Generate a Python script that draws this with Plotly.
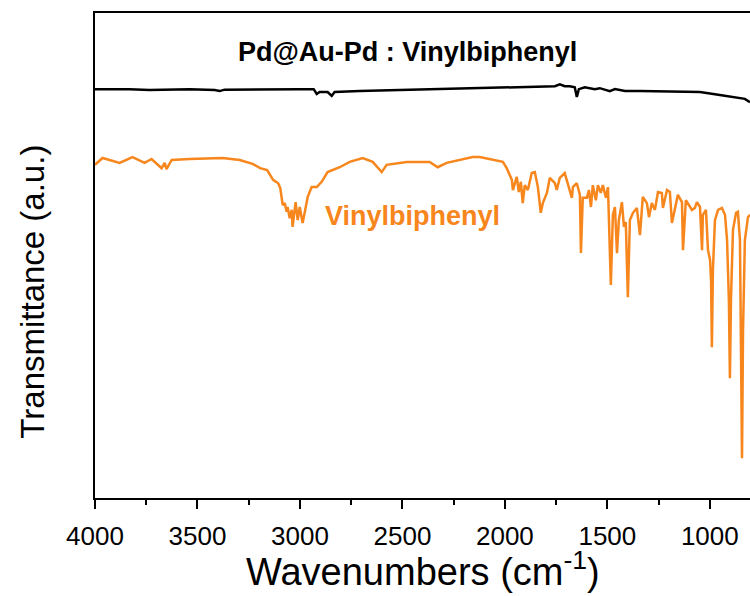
import plotly.graph_objects as go

# Black spectrum: Pd@Au-Pd : Vinylbiphenyl
wn_black = [4000, 3832, 3734, 3539, 3416, 3392, 3368, 3197, 3001, 2933, 2918, 2904, 2865, 2845,
            2831, 2709, 2514, 2270, 2025, 1830, 1756, 1732, 1708, 1683, 1659, 1649, 1639, 1610,
            1561, 1537, 1488, 1463, 1414, 1341, 1146, 1048, 951, 878, 829, 804]
t_black = [84.3, 84.3, 84.1, 84.3, 84.1, 83.9, 84.2, 84.3, 84.3, 84.3, 83.3, 83.7, 83.7, 82.9,
           83.7, 83.9, 84.1, 84.3, 84.5, 84.7, 84.9, 85.3, 84.9, 84.9, 84.7, 82.7, 84.3, 84.7,
           84.3, 84.5, 83.9, 84.3, 83.9, 83.9, 83.7, 83.7, 83.1, 82.7, 82.3, 81.6]

# Orange spectrum: Vinylbiphenyl
wn_orange = [4000, 3963, 3880, 3817, 3758, 3724, 3675, 3660, 3651, 3626, 3539, 3377, 3294, 3231,
             3194, 3160, 3131, 3106, 3096, 3084, 3074, 3065, 3060, 3050, 3040, 3036, 3021, 3011,
             3001, 2987, 2977, 2962, 2943, 2918, 2894, 2865, 2806, 2757, 2694, 2645, 2601, 2577,
             2479, 2367, 2328, 2284, 2157, 2123, 2010, 1991, 1966, 1961, 1942, 1932, 1922, 1913,
             1903, 1888, 1869, 1854, 1839, 1825, 1815, 1795, 1781, 1756, 1747, 1732, 1708, 1693,
             1673, 1668, 1649, 1634, 1629, 1620, 1600, 1590, 1580, 1571, 1556, 1546, 1532, 1522,
             1507, 1497, 1483, 1473, 1463, 1453, 1444, 1429, 1419, 1410, 1400, 1390, 1375, 1356,
             1341, 1327, 1307, 1297, 1283, 1268, 1253, 1234, 1229, 1209, 1195, 1185, 1170, 1156,
             1136, 1131, 1117, 1107, 1087, 1073, 1063, 1048, 1038, 1034, 1019, 1009, 999, 994,
             990, 985, 975, 960, 941, 926, 916, 907, 902, 897, 887, 872, 863, 853, 848, 843, 838,
             829, 814, 804]
t_orange = [68.7, 70.1, 69.1, 70.3, 69.1, 69.9, 68.0, 69.1, 67.8, 69.7, 69.9, 70.1, 69.7, 68.9,
            68.0, 67.6, 65.6, 64.9, 63.9, 60.4, 60.8, 59.0, 60.0, 57.7, 59.4, 55.9, 61.0, 57.3,
            60.0, 56.7, 58.8, 62.1, 64.1, 64.1, 65.2, 67.2, 68.2, 69.3, 70.1, 69.3, 67.2, 68.7,
            69.3, 69.3, 68.2, 69.1, 70.3, 70.3, 69.3, 68.0, 65.6, 63.5, 66.2, 63.1, 65.2, 60.8,
            64.5, 63.5, 67.0, 67.2, 64.1, 58.8, 60.8, 62.9, 66.0, 64.9, 63.5, 66.0, 67.0, 64.9,
            61.9, 64.1, 64.9, 62.5, 50.5, 61.9, 61.9, 63.5, 60.0, 64.5, 61.4, 64.5, 62.9, 64.5,
            61.9, 64.1, 43.9, 58.4, 60.0, 50.5, 57.3, 61.0, 55.9, 56.9, 41.4, 57.3, 58.8, 59.8,
            54.2, 62.1, 60.8, 57.9, 60.8, 59.4, 63.1, 62.9, 59.8, 63.5, 63.1, 56.7, 60.0, 62.5,
            61.0, 51.1, 61.4, 60.8, 59.4, 59.8, 61.0, 60.0, 51.1, 58.4, 59.4, 51.1, 49.1, 45.0,
            31.1, 47.0, 57.3, 59.4, 59.8, 58.4, 53.2, 40.8, 24.7, 40.8, 55.3, 58.8, 59.0, 53.2,
            34.6, 8.2, 34.6, 53.2, 57.9, 58.4]

major_ticks = [4000, 3500, 3000, 2500, 2000, 1500, 1000]
minor_ticks = [3750, 3250, 2750, 2250, 1750, 1250]

ORANGE = "#F7861C"
FONT = "Liberation Sans, Arial, sans-serif"

fig = go.Figure()
fig.add_trace(go.Scatter(x=wn_black, y=t_black, mode="lines",
                         line=dict(color="#000000", width=2.5), showlegend=False))
fig.add_trace(go.Scatter(x=wn_orange, y=t_orange, mode="lines",
                         line=dict(color=ORANGE, width=2.5), showlegend=False))

fig.update_layout(
    width=750, height=596,
    margin=dict(l=95, r=0, t=13, b=98, autoexpand=False),
    paper_bgcolor="white", plot_bgcolor="white",
    font=dict(family=FONT, color="black"),
    xaxis=dict(range=[4000, 804], tickmode="array", tickvals=major_ticks,
               ticktext=[str(v) for v in major_ticks],
               ticks="outside", ticklen=9, tickwidth=1.5, tickcolor="black",
               showline=True, linecolor="black", linewidth=1.5, mirror=True,
               showgrid=False, zeroline=False, ticklabelstandoff=5,
               tickfont=dict(size=26, family=FONT, color="black"),
               minor=dict(tickmode="array", tickvals=minor_ticks, ticks="outside",
                          ticklen=5, tickwidth=1.5, tickcolor="black", showgrid=False)),
    yaxis=dict(range=[0, 100], showticklabels=False, ticks="",
               showline=True, linecolor="black", linewidth=1.5,
               showgrid=False, zeroline=False),
    annotations=[
        dict(text="Wavenumbers (cm<sup>-1</sup>)", xref="paper", yref="paper",
             x=0.5, y=-0.147, xanchor="center", yanchor="middle", showarrow=False,
             font=dict(size=38, family=FONT, color="black")),
        dict(text="Transmittance (a.u.)", xref="paper", yref="paper",
             x=-0.095, y=0.425, xanchor="center", yanchor="middle", textangle=-90,
             showarrow=False, font=dict(size=33, family=FONT, color="black")),
        dict(text="<b>Pd@Au-Pd : Vinylbiphenyl</b>", xref="paper", yref="paper",
             x=0.477, y=0.92, xanchor="center", yanchor="middle", showarrow=False,
             font=dict(size=27, family=FONT, color="black")),
        dict(text="<b>Vinylbiphenyl</b>", xref="paper", yref="paper",
             x=0.484, y=0.581, xanchor="center", yanchor="middle", showarrow=False,
             font=dict(size=27, family=FONT, color=ORANGE)),
    ],
)

# remove the default page margin so the figure sits at the window's top-left corner
fig.write_html("out.html", config={"displayModeBar": False},
               post_script="document.body.style.margin='0';document.body.style.overflow='hidden';")
